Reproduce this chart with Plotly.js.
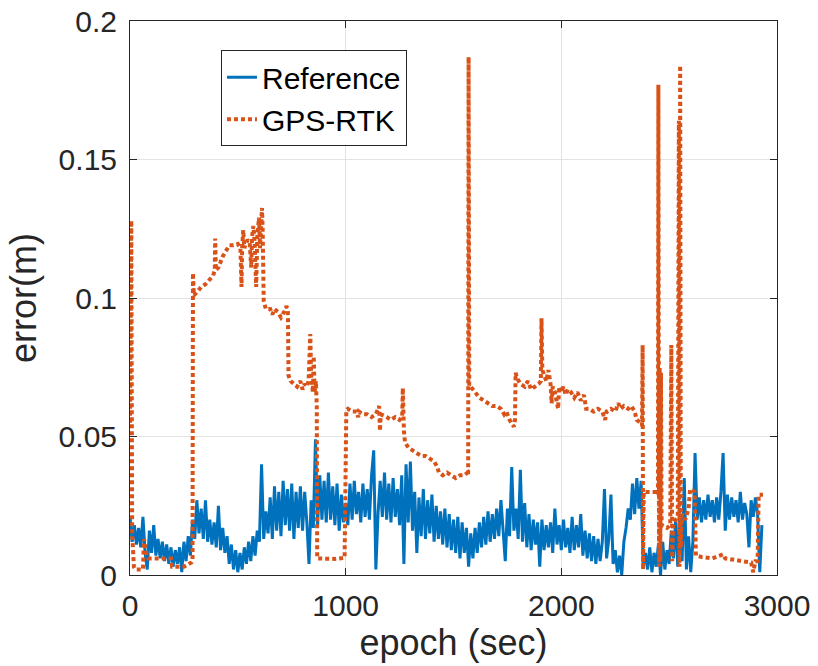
<!DOCTYPE html>
<html>
<head>
<meta charset="utf-8">
<script src="https://cdn.plot.ly/plotly-3.0.1.min.js"></script>
<style>
html,body{margin:0;padding:0;background:#fff;}
#chart{width:818px;height:666px;}
</style>
</head>
<body>
<div id="chart"></div>
<script>
// ---- data ----
const seriesNames = ["Reference", "GPS-RTK"];
const xTickVals = [0, 1000, 2000, 3000];
const xTickText = ["0", "1000", "2000", "3000"];
const yTickVals = [0, 0.05, 0.1, 0.15, 0.2];
const yTickText = ["0", "0.05", "0.1", "0.15", "0.2"];

const refT = [
0,10,20,30,40,50,60,70,80,90,
100,110,120,130,140,150,160,170,180,190,
200,210,220,230,240,250,260,270,280,290,
300,310,320,330,340,350,360,370,380,390,
400,410,420,430,440,450,460,470,480,490,
500,510,520,530,540,550,560,570,580,590,
600,610,620,630,640,650,660,670,680,690,
700,710,720,730,740,750,760,770,780,790,
800,810,820,830,840,850,860,870,880,890,
900,910,920,930,940,950,960,970,980,990,
1000,1010,1020,1030,1040,1050,1060,1070,1080,1090,
1100,1110,1120,1130,1140,1150,1160,1170,1180,1190,
1200,1210,1220,1230,1240,1250,1260,1270,1280,1290,
1300,1310,1320,1330,1340,1350,1360,1370,1380,1390,
1400,1410,1420,1430,1440,1450,1460,1470,1480,1490,
1500,1510,1520,1530,1540,1550,1560,1570,1580,1590,
1600,1610,1620,1630,1640,1650,1660,1670,1680,1690,
1700,1710,1720,1730,1740,1750,1760,1770,1780,1790,
1800,1810,1820,1830,1840,1850,1860,1870,1880,1890,
1900,1910,1920,1930,1940,1950,1960,1970,1980,1990,
2000,2010,2020,2030,2040,2050,2060,2070,2080,2090,
2100,2110,2120,2130,2140,2150,2160,2170,2180,2190,
2200,2210,2220,2230,2240,2250,2260,2270,2280,2290,
2300,2310,2320,2330,2340,2350,2360,2370,2380,2390,
2400,2410,2420,2430,2440,2450,2460,2470,2480,2490,
2500,2510,2520,2530,2540,2550,2560,2570,2580,2590,
2600,2610,2620,2630,2640,2650,2660,2670,2680,2690,
2700,2710,2720,2730,2740,2750,2760,2770,2780,2790,
2800,2810,2820,2830,2840,2850,2860,2870,2880,2890,
2900,2910,2920,2930];

const refErr = [
0.021,0.012,0.018,0.011,0.017,0.010,0.021,0.008,0.002,0.016,
0.008,0.018,0.007,0.013,0.006,0.012,0.005,0.011,0.004,0.010,
0.003,0.009,0.004,0.010,0.001,0.012,0.005,0.014,0.007,0.020,
0.013,0.027,0.015,0.024,0.013,0.027,0.012,0.020,0.011,0.019,
0.010,0.025,0.009,0.017,0.008,0.014,0.004,0.011,0.002,0.009,
0.001,0.008,0.002,0.010,0.004,0.012,0.005,0.014,0.007,0.016,
0.012,0.040,0.013,0.023,0.015,0.028,0.013,0.032,0.016,0.030,
0.014,0.034,0.018,0.031,0.016,0.033,0.013,0.030,0.017,0.032,
0.016,0.030,0.019,0.004,0.027,0.017,0.049,0.018,0.036,0.020,
0.034,0.019,0.037,0.020,0.032,0.018,0.033,0.016,0.029,0.019,
0.026,0.018,0.033,0.020,0.034,0.022,0.030,0.019,0.033,0.021,
0.031,0.020,0.036,0.045,0.002,0.022,0.034,0.021,0.037,0.020,
0.033,0.019,0.035,0.021,0.031,0.018,0.036,0.004,0.040,0.019,
0.041,0.016,0.030,0.008,0.028,0.014,0.031,0.013,0.027,0.015,
0.029,0.012,0.025,0.013,0.023,0.011,0.024,0.010,0.022,0.009,
0.020,0.008,0.021,0.006,0.019,0.008,0.017,0.003,0.015,0.006,
0.017,0.008,0.019,0.010,0.021,0.011,0.023,0.012,0.022,0.013,
0.024,0.014,0.027,0.015,0.005,0.024,0.014,0.039,0.016,0.024,
0.013,0.038,0.012,0.026,0.010,0.022,0.009,0.020,0.011,0.019,
0.003,0.020,0.009,0.018,0.010,0.019,0.008,0.024,0.011,0.018,
0.009,0.020,0.010,0.017,0.008,0.021,0.009,0.018,0.010,0.022,
0.007,0.016,0.006,0.015,0.005,0.014,0.004,0.013,0.005,0.012,
0.031,0.006,0.013,0.029,0.004,0.009,0.001,0.007,0.000,0.012,
0.017,0.024,0.020,0.033,0.022,0.035,0.024,0.034,0.003,0.008,
0.002,0.010,0.001,0.008,0.003,0.011,0.000,0.012,0.002,0.009,
0.004,0.016,0.006,0.020,0.003,0.022,0.005,0.035,0.002,0.014,
0.001,0.012,0.044,0.020,0.028,0.019,0.027,0.020,0.029,0.021,
0.027,0.019,0.028,0.020,0.030,0.044,0.016,0.029,0.020,0.028,
0.021,0.027,0.019,0.030,0.020,0.026,0.022,0.010,0.027,0.021,
0.028,0.022,0.001,0.018];

const rtkT = [
0,2,6,10,14,18,25,60,65,70,75,85,190,195,250,285,290,292,296,
310,330,350,370,385,393,395,398,410,430,445,460,480,500,512,517,520,525,530,545,555,562,566,572,578,585,590,598,603,608,612,615,620,
630,650,660,670,685,700,715,725,732,735,745,760,775,790,800,810,820,828,833,836,840,848,852,856,862,866,868,900,950,995,
1000,1003,1010,1030,1050,1058,1062,1080,1100,1120,1140,1155,1159,1163,1190,1210,1230,1250,1262,1265,1270,1275,
1290,1310,1330,1350,1370,1390,1410,1425,1432,1450,1470,1490,1510,1530,1550,1566,1568,1570,1573,
1580,1600,1620,1640,1660,1680,1700,1720,1735,1745,1760,1780,1785,1788,1795,1810,1830,1845,1860,1880,1895,1905,1908,1912,1920,1930,1940,1950,1955,1960,
1970,1985,1990,2000,2010,2020,2030,2045,2060,2075,2090,2105,2115,2130,2150,2170,2190,2203,2210,2230,2250,2264,2275,2290,2310,2325,2340,2350,2365,2374,
2377,2379,2382,2410,2440,2448,2450,2453,2456,2459,2462,2465,2490,2505,2510,2514,2518,2530,2540,2545,2548,2551,2554,2560,2575,2590,2597,2618,2624,
2650,2700,2750,2760,2800,2850,2880,2890,2900,2910,2915,2935];

const rtkErr = [
0.055,0.128,0.128,0.015,0.008,0.003,0.002,0.002,0.013,0.011,0.008,0.006,0.006,0.003,0.003,0.0045,0.005,0.109,0.101,
0.102,0.104,0.105,0.107,0.108,0.110,0.1215,0.110,0.111,0.115,0.117,0.119,0.119,0.1195,0.118,0.104,0.118,0.1245,0.118,0.121,0.120,0.111,0.122,0.126,0.120,0.104,0.122,0.129,0.118,0.126,0.1325,0.125,0.099,
0.096,0.096,0.094,0.096,0.095,0.093,0.095,0.097,0.096,0.072,0.070,0.069,0.068,0.070,0.067,0.069,0.068,0.070,0.078,0.087,0.072,0.066,0.079,0.066,0.070,0.061,0.006,0.006,0.0058,0.0062,
0.055,0.0595,0.060,0.059,0.059,0.057,0.059,0.058,0.058,0.057,0.058,0.061,0.052,0.058,0.057,0.056,0.057,0.056,0.057,0.0675,0.052,0.048,
0.046,0.045,0.044,0.043,0.043,0.042,0.041,0.039,0.037,0.036,0.037,0.036,0.035,0.036,0.036,0.037,0.036,0.187,0.068,
0.068,0.066,0.064,0.063,0.062,0.061,0.061,0.060,0.058,0.059,0.056,0.0535,0.056,0.073,0.071,0.069,0.068,0.070,0.067,0.068,0.069,0.070,0.0927,0.074,0.072,0.070,0.074,0.069,0.062,0.068,
0.066,0.060,0.068,0.066,0.068,0.065,0.067,0.066,0.064,0.066,0.063,0.065,0.060,0.060,0.059,0.060,0.059,0.056,0.059,0.060,0.059,0.062,0.060,0.061,0.060,0.061,0.059,0.056,0.055,0.054,
0.083,0.002,0.030,0.030,0.030,0.029,0.177,0.003,0.075,0.005,0.073,0.018,0.017,0.018,0.083,0.005,0.018,0.020,0.021,0.164,0.003,0.184,0.010,0.022,0.020,0.024,0.031,0.030,0.007,
0.0065,0.006,0.0075,0.006,0.0055,0.005,0.0045,0.001,0.005,0.005,0.029,0.029];

// ---- chart ----
const FONT = "Liberation Sans, Arial, Helvetica, sans-serif";
const AX = "#262626";

const traces = [
  {
    x: refT, y: refErr, name: seriesNames[0], type: "scatter", mode: "lines",
    line: {color: "#0072BD", width: 3}
  },
  {
    x: rtkT, y: rtkErr, name: seriesNames[1], type: "scatter", mode: "lines",
    line: {color: "#D95319", width: 4, dash: "4px,3px"}
  }
];

const axisCommon = {
  showline: true, mirror: "ticks", linecolor: AX, linewidth: 1,
  ticks: "inside", ticklen: 7, tickwidth: 1, tickcolor: AX,
  showgrid: true, gridcolor: "#e3e3e3", gridwidth: 1,
  zeroline: false,
  tickfont: {family: FONT, size: 30, color: AX}
};

const layout = {
  width: 818, height: 666,
  margin: {l: 130, r: 41, t: 21, b: 91},
  paper_bgcolor: "#fff", plot_bgcolor: "#fff",
  showlegend: true,
  legend: {
    x: 0.1406, y: 0.947, xanchor: "left", yanchor: "top",
    bgcolor: "#fff", bordercolor: AX, borderwidth: 1,
    font: {family: FONT, size: 30, color: "#000"},
    tracegroupgap: 0
  },
  xaxis: Object.assign({}, axisCommon, {
    range: [0, 3000], tickmode: "array", tickvals: xTickVals, ticktext: xTickText,
    ticklabelstandoff: 4,
    title: {text: "epoch (sec)", font: {family: FONT, size: 36, color: AX}, standoff: 2}
  }),
  yaxis: Object.assign({}, axisCommon, {
    range: [0, 0.2], tickmode: "array", tickvals: yTickVals, ticktext: yTickText,
    ticklabelstandoff: 6,
    title: {text: "error(m)", font: {family: FONT, size: 36, color: AX}, standoff: 11}
  })
};

Plotly.newPlot("chart", traces, layout, {displayModeBar: false, staticPlot: true});
</script>
</body>
</html>
